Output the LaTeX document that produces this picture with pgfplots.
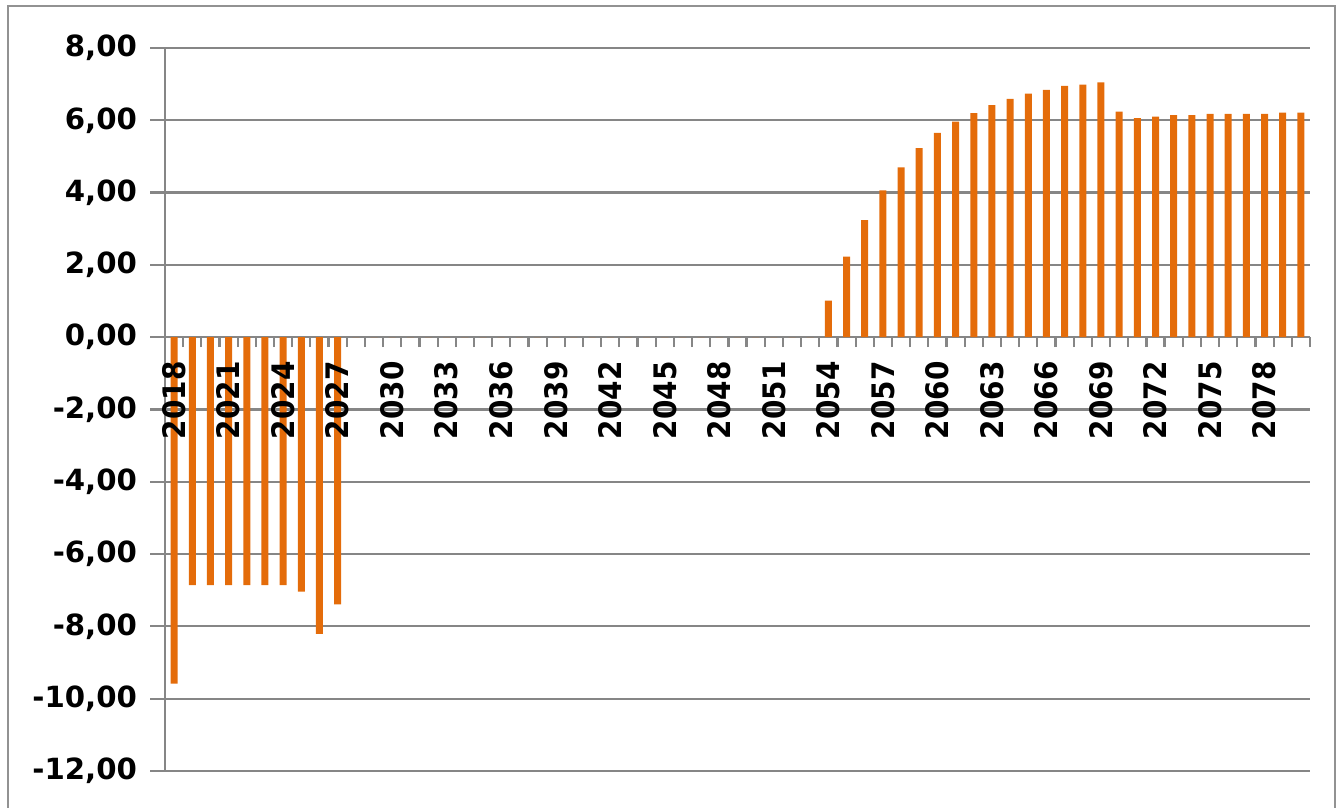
\documentclass[border=0pt]{standalone}
\usepackage{fontspec}
\setmainfont{DejaVu Sans}
\newfontfamily\condfont{DejaVu Sans Condensed}
\usepackage{pgfplots}
\usepackage{pgfplotstable}
\pgfplotsset{compat=1.18}
\definecolor{barorange}{RGB}{228,108,10}
\definecolor{gridgray}{RGB}{134,134,134}
\pgfplotstableread{
year value
2018 -9.58
2019 -6.86
2020 -6.86
2021 -6.86
2022 -6.86
2023 -6.86
2024 -6.86
2025 -7.04
2026 -8.21
2027 -7.39
2028 0
2029 0
2030 0
2031 0
2032 0
2033 0
2034 0
2035 0
2036 0
2037 0
2038 0
2039 0
2040 0
2041 0
2042 0
2043 0
2044 0
2045 0
2046 0
2047 0
2048 0
2049 0
2050 0
2051 0
2052 0
2053 0
2054 1.01
2055 2.23
2056 3.24
2057 4.06
2058 4.70
2059 5.23
2060 5.65
2061 5.96
2062 6.20
2063 6.42
2064 6.59
2065 6.74
2066 6.84
2067 6.95
2068 6.99
2069 7.05
2070 6.24
2071 6.06
2072 6.10
2073 6.14
2074 6.14
2075 6.18
2076 6.18
2077 6.18
2078 6.18
2079 6.21
2080 6.21
}\datatable
\pgfplotsset{
  common/.style={
    at={(82.5pt,18.5pt)}, anchor=south west,
    scale only axis, width=572.5pt, height=361.5pt,
    xmin=2017.5, xmax=2080.5, ymin=-12, ymax=8,
    clip=false,
  },
}
\begin{document}
\begin{tikzpicture}[x=1pt,y=1pt]
\useasboundingbox (0,0) rectangle (670.5,404);
\draw[gridgray!90, line width=1pt] (4,-10) rectangle (667.5,401);
\begin{axis}[
  common,
  axis y line*=left, axis x line*=middle,
  axis line style={gridgray, line width=1.1pt},
  ytick={-12,-10,...,8},
  ymajorgrids, grid style={gridgray, line width=1.1pt},
  xtick={2018,2021,...,2078},
  xticklabels={},
  minor xtick={2017.5,2018.5,...,2080.5},
  tick align=outside,
  major tick length=7.5pt,
  minor tick length=5pt,
  every major x tick/.append style={draw=none},
  every minor tick/.append style={gridgray, line width=1.1pt},
  every major tick/.append style={gridgray, line width=1.1pt},
  yticklabel style={font=\bfseries\fontsize{14.6}{14.6}\selectfont, xshift=-3pt,
    /pgf/number format/.cd, fixed, fixed zerofill, precision=2, use comma, assume math mode=true},
]
\addplot[ybar, bar width=3.5pt, fill=barorange, draw=none] table[x=year, y=value] {\datatable};
\end{axis}
\begin{axis}[
  common,
  axis y line=none, axis x line*=middle,
  axis line style={draw=none},
  ytick=\empty,
  xtick={2018,2021,...,2078},
  major tick length=0pt,
  xticklabel shift=12pt,
  xticklabel style={rotate=90, anchor=east, inner sep=0pt,
    font=\condfont\bfseries\fontsize{15.5}{15.5}\selectfont,
    /pgf/number format/1000 sep={}, /pgf/number format/assume math mode=true},
]
\end{axis}
\end{tikzpicture}
\end{document}
